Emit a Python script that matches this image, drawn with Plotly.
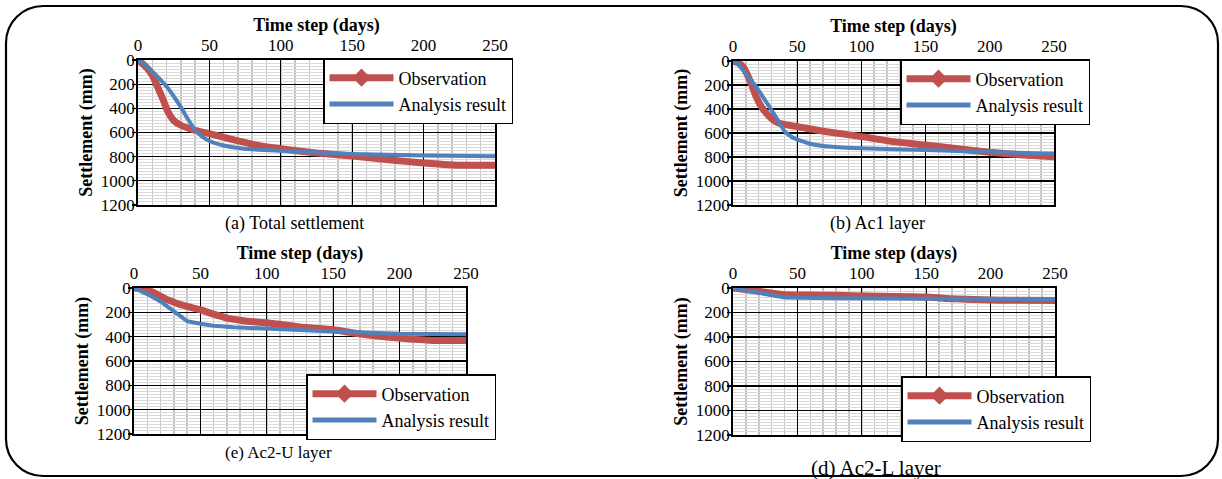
import plotly.graph_objects as go

# ---------------- data ----------------
# (a) Total settlement
a_obs_day = [0, 5, 10, 14, 18, 21, 25, 30, 38, 50, 65, 85, 100, 125, 150, 175, 200, 225, 250]
a_obs_mm = [0, 50, 125, 230, 340, 430, 500, 540, 575, 610, 655, 710, 735, 770, 795, 825, 852, 870, 870]
a_ana_day = [0, 5, 10, 15, 20, 25, 30, 35, 40, 45, 50, 60, 75, 100, 150, 200, 250]
a_ana_mm = [0, 40, 95, 155, 220, 300, 390, 490, 580, 635, 670, 708, 735, 752, 778, 790, 796]

# (b) Ac1 layer
b_obs_day = [0, 4, 8, 13, 18, 22, 26, 31, 36, 50, 73, 100, 125, 150, 177, 200, 226, 250]
b_obs_mm = [0, 15, 50, 158, 297, 380, 436, 490, 519, 547, 589, 630, 672, 700, 733, 761, 783, 797]
b_ana_day = [0, 4, 8, 13, 18, 23, 28, 33, 37, 41, 46, 51, 60, 70, 85, 100, 150, 200, 250]
b_ana_mm = [0, 30, 80, 150, 214, 295, 375, 460, 530, 595, 635, 658, 690, 708, 720, 728, 742, 758, 772]

# (e) Ac2-U layer
e_obs_day = [0, 5, 10, 17, 25, 32, 40, 50, 60, 70, 80, 90, 100, 125, 150, 175, 200, 225, 250]
e_obs_mm = [0, 2, 15, 50, 96, 125, 151, 179, 215, 247, 265, 278, 285, 321, 343, 385, 412, 431, 431]
e_ana_day = [0, 10, 20, 30, 40, 50, 60, 75, 100, 150, 200, 250]
e_ana_mm = [0, 50, 110, 190, 272, 294, 310, 322, 335, 357, 376, 380]

# (d) Ac2-L layer
d_obs_day = [0, 20, 40, 60, 80, 105, 150, 165, 181, 207, 250]
d_obs_mm = [0, 27, 55, 58, 60, 65, 73, 85, 92, 100, 103]
d_ana_day = [0, 40, 78, 150, 207, 250]
d_ana_mm = [0, 78, 84, 87, 92, 92]

x_ticks = [0, 50, 100, 150, 200, 250]
y_ticks = [0, 200, 400, 600, 800, 1000, 1200]
captions = ["(a) Total settlement", "(b) Ac1 layer", "(e) Ac2-U layer", "(d) Ac2-L layer"]
x_title = "Time step (days)"
y_title = "Settlement (mm)"
obs_name = "Observation"
ana_name = "Analysis result"

# ---------------- layout helpers ----------------
W, H = 1222, 479
FONT = "Liberation Serif"
RED = "#C0504D"
BLUE = "#4F81BD"


def px(x):
    return x / W


def py(y):
    return 1 - y / H


def f(size):
    return dict(family=FONT, size=size, color="black")


# plot areas in pixels: (left, right, top, bottom)
areas = [(138, 495, 60, 205), (733, 1054, 61, 205), (134, 466, 288, 434), (733, 1055, 288, 435)]
legend_pos = [(323, 58), (900, 59), (306, 374), (901, 376)]
caption_pos = [(294, 223, 18), (877, 223, 18), (278, 452, 17), (876, 468, 21)]

panels = [
    (a_obs_day, a_obs_mm, a_ana_day, a_ana_mm, "spline"),
    (b_obs_day, b_obs_mm, b_ana_day, b_ana_mm, "spline"),
    (e_obs_day, e_obs_mm, e_ana_day, e_ana_mm, "linear"),
    (d_obs_day, d_obs_mm, d_ana_day, d_ana_mm, "linear"),
]

fig = go.Figure()
layout = dict(
    template="none",
    width=W, height=H,
    margin=dict(l=0, r=0, t=0, b=0, pad=0),
    paper_bgcolor="white", plot_bgcolor="white",
    font=f(17),
    showlegend=True,
)
annotations = []

for i, (od, om, ad, am, shape) in enumerate(panels):
    n = "" if i == 0 else str(i + 1)
    xa, ya = "x" + n, "y" + n
    leg = "legend" + n
    # data traces
    fig.add_trace(go.Scatter(x=od, y=om, mode="lines", xaxis=xa, yaxis=ya,
                             line=dict(color=RED, width=7, shape="spline", smoothing=0.5),
                             showlegend=False, hoverinfo="skip"))
    fig.add_trace(go.Scatter(x=ad, y=am, mode="lines", xaxis=xa, yaxis=ya,
                             line=dict(color=BLUE, width=4, shape=shape, smoothing=0.6),
                             showlegend=False, hoverinfo="skip"))
    # legend entries
    fig.add_trace(go.Scatter(x=[None], y=[None], mode="lines+markers", name=obs_name,
                             xaxis=xa, yaxis=ya, legend=leg,
                             line=dict(color=RED, width=7),
                             marker=dict(symbol="diamond", size=14, color=RED)))
    fig.add_trace(go.Scatter(x=[None], y=[None], mode="lines", name=ana_name,
                             xaxis=xa, yaxis=ya, legend=leg,
                             line=dict(color=BLUE, width=5)))

    l, r, t, b = areas[i]
    layout["xaxis" + n] = dict(
        domain=[px(l), px(r)], anchor=ya, side="top", range=[0, 250],
        automargin=False,
        tickvals=x_ticks, ticks="", ticklen=0,
        showgrid=True, gridcolor="black", gridwidth=1.2,
        minor=dict(dtick=10, showgrid=True, gridcolor="#c4c4c4", gridwidth=1.5, ticks=""),
        showline=True, linecolor="black", linewidth=1.8, mirror=True,
        zeroline=False, tickfont=f(17),
        title=dict(text="<b>" + x_title + "</b>", font=f(18), standoff=0),
    )
    layout["yaxis" + n] = dict(
        domain=[py(b), py(t)], anchor=xa, range=[1200, 0],
        automargin=False,
        tickvals=y_ticks, ticks="outside", ticklen=4, tickcolor="black", tickwidth=1.2,
        ticklabelstandoff=-6,
        showgrid=True, gridcolor="black", gridwidth=1.2,
        minor=dict(dtick=25, showgrid=True, gridcolor="#d9d9d9", gridwidth=1, ticks=""),
        showline=True, linecolor="black", linewidth=1.8, mirror=True,
        zeroline=False, tickfont=f(17),
        title=dict(text="<b>" + y_title + "</b>", font=f(18), standoff=3),
    )
    lx, ly = legend_pos[i]
    layout[leg] = dict(
        x=px(lx), y=py(ly), xanchor="left", yanchor="top",
        bgcolor="white", bordercolor="black", borderwidth=1.5,
        font=f(18), tracegroupgap=0, itemwidth=64,
    )
    cx, cy, cs = caption_pos[i]
    annotations.append(dict(text=captions[i], x=px(cx), y=py(cy), xref="paper", yref="paper",
                            showarrow=False, font=f(cs),
                            xanchor="center", yanchor="middle"))

layout["annotations"] = annotations

# rounded outer frame
L, R, T, B, rad = 6, 1218, 6, 476, 37
k = 0.5523 * rad
pts = [
    ("M", [(L + rad, T)]),
    ("L", [(R - rad, T)]),
    ("C", [(R - rad + k, T), (R, T + rad - k), (R, T + rad)]),
    ("L", [(R, B - rad)]),
    ("C", [(R, B - rad + k), (R - rad + k, B), (R - rad, B)]),
    ("L", [(L + rad, B)]),
    ("C", [(L + rad - k, B), (L, B - rad + k), (L, B - rad)]),
    ("L", [(L, T + rad)]),
    ("C", [(L, T + rad - k), (L + rad - k, T), (L + rad, T)]),
]
path = ""
for cmd, ps in pts:
    path += cmd + " " + " ".join(f"{px(x):.5f},{py(y):.5f}" for x, y in ps) + " "
path += "Z"
layout["shapes"] = [dict(type="path", path=path, xref="paper", yref="paper",
                         line=dict(color="black", width=2.2), layer="above")]

fig.update_layout(**layout)

fig.write_html("out.html", config={"staticPlot": True},
               post_script="document.body.style.margin='0';document.body.style.overflow='hidden';")
